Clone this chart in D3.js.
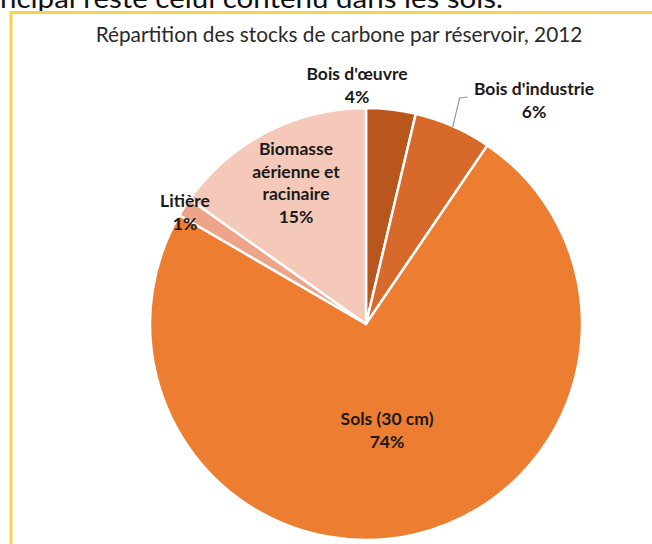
<!DOCTYPE html>
<html><head><meta charset="utf-8">
<script src="https://cdn.jsdelivr.net/npm/d3@7"></script>
<style>html,body{margin:0;padding:0;background:#fff;overflow:hidden}</style>
</head><body><svg id="c" width="652" height="544"></svg>
<script>
const categories = ["Bois d'œuvre", "Bois d'industrie", "Sols (30 cm)", "Litière", "Biomasse aérienne et racinaire"];
const values = [3.7, 5.8, 73.9, 1.4, 15.2];
const pctLabels = ["4%", "6%", "74%", "1%", "15%"];
const colors = ["#b9561e", "#d7692a", "#ed7d31", "#eea488", "#f5c9b9"];
const labelLines = [["Bois d'œuvre", "4%"], ["Bois d'industrie", "6%"], ["Sols (30 cm)", "74%"], ["Litière", "1%"], ["Biomasse", "aérienne et", "racinaire", "15%"]];
const title = "Répartition des stocks de carbone par réservoir, 2012";
const topText = "ncipal reste celui contenu dans les sols.";

const svg = d3.select("#c");
const font = "Lato, 'Open Sans', sans-serif";

// caption of the page, clipped by the top edge as in the reference
svg.append("text").attr("x", 0).attr("y", 8)
  .attr("textLength", 503).attr("lengthAdjust", "spacingAndGlyphs")
  .attr("font-family", font).attr("font-size", 26).attr("fill", "#111").text(topText);

// yellow frame
svg.append("path").attr("d", "M11,546 L11,12.5 L654,12.5").attr("fill", "none")
  .attr("stroke", "#f4d44c").attr("stroke-width", 3);

svg.append("text").attr("x", 339).attr("y", 42).attr("text-anchor", "middle")
  .attr("font-family", font).attr("font-size", 20.8).attr("fill", "#2a2a2a").text(title);

const cx = 366, cy = 324, r = 216;
const pie = d3.pie().sort(null).value(d => d)(values);
const arc = d3.arc().innerRadius(0).outerRadius(r);
const g = svg.append("g").attr("transform", `translate(${cx},${cy})`);
g.selectAll("path").data(pie).join("path")
  .attr("d", arc).attr("fill", (d, i) => colors[i])
  .attr("stroke", "#fff").attr("stroke-width", 2.5).attr("stroke-linejoin", "round");

// label anchor positions (first line baseline) relative to the pie centre
const labelPos = [[-9, -244], [168, -229], [21, 101], [-181, -117], [-70, -169]];
const lh = 22.5;
labelLines.forEach((lines, i) => {
  const t = svg.append("text").attr("text-anchor", "middle")
    .attr("font-family", font).attr("font-weight", "bold").attr("font-size", 17.5).attr("fill", "#1a1a1a");
  lines.forEach((s, j) => {
    t.append("tspan").attr("x", cx + labelPos[i][0]).attr("y", cy + labelPos[i][1] + j * lh).text(s);
  });
});

// leader line for Bois d'industrie
const mid = (pie[1].startAngle + pie[1].endAngle) / 2;
const ex = cx + Math.sin(mid) * (r - 1), ey = cy - Math.cos(mid) * (r - 1);
svg.append("polyline").attr("points", `${ex},${ey} ${ex + 7},${cy - 226} ${ex + 15},${cy - 227}`)
  .attr("fill", "none").attr("stroke", "#999").attr("stroke-width", 1.2);
</script></body></html>
